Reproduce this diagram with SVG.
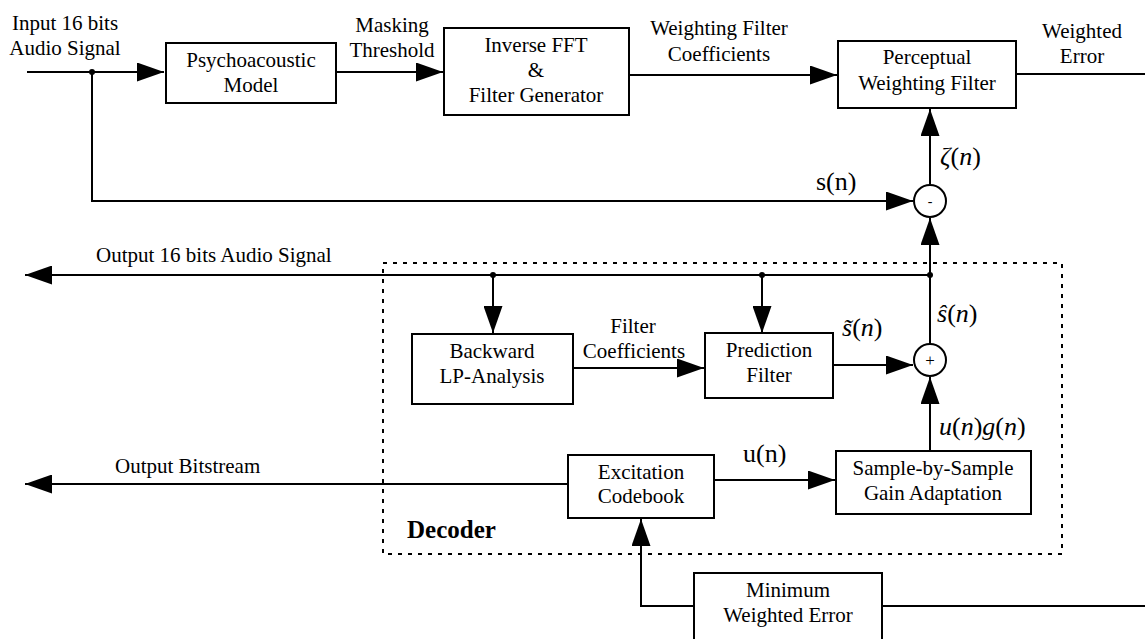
<svg xmlns="http://www.w3.org/2000/svg" width="1145" height="639" viewBox="0 0 1145 639">
<style>
text{font-family:"Liberation Serif","Times New Roman",serif;font-size:21px;fill:#000}
.c{text-anchor:middle}
.m{font-size:26px}
.i{font-style:italic}
.box{fill:#fff;stroke:#000;stroke-width:2}
.ln{fill:none;stroke:#000;stroke-width:2}
.dash{fill:none;stroke:#000;stroke-width:2;stroke-dasharray:4 6}
.dot{fill:#000}
</style>
<defs>
<marker id="ah" markerUnits="userSpaceOnUse" markerWidth="27" markerHeight="19" refX="27" refY="9.5" orient="auto">
<path d="M0,0 L27,9.5 L0,19 z" fill="#000"/>
</marker>
</defs>
<rect width="1145" height="639" fill="#fff"/>

<g id="decoder-frame">
<rect class="dash" x="383" y="263" width="679" height="291"/>
<text x="407" y="538" style="font-weight:bold;font-size:25px">Decoder</text>
</g>

<g id="connectors">
<path class="ln" d="M27,72 H164" marker-end="url(#ah)"/>
<path class="ln" d="M336,72 H443" marker-end="url(#ah)"/>
<path class="ln" d="M629,75 H837" marker-end="url(#ah)"/>
<path class="ln" d="M1016,74 H1145"/>
<path class="ln" d="M92,72 V201 H913" marker-end="url(#ah)"/>
<path class="ln" d="M930,184 V109" marker-end="url(#ah)"/>
<path class="ln" d="M930,344 V218" marker-end="url(#ah)"/>
<path class="ln" d="M930,275 H25" marker-end="url(#ah)"/>
<path class="ln" d="M493,275 V333" marker-end="url(#ah)"/>
<path class="ln" d="M762,275 V333" marker-end="url(#ah)"/>
<path class="ln" d="M573,368 H704" marker-end="url(#ah)"/>
<path class="ln" d="M833,365 H913" marker-end="url(#ah)"/>
<path class="ln" d="M930,451 V377" marker-end="url(#ah)"/>
<path class="ln" d="M714,480 H835" marker-end="url(#ah)"/>
<path class="ln" d="M568,484 H25" marker-end="url(#ah)"/>
<path class="ln" d="M694,606 H641 V519" marker-end="url(#ah)"/>
<path class="ln" d="M882,606 H1145"/>
<circle class="dot" cx="92" cy="72" r="3"/>
<circle class="dot" cx="493" cy="275" r="3"/>
<circle class="dot" cx="762" cy="275" r="3"/>
<circle class="dot" cx="930" cy="275" r="3"/>
</g>

<g id="labels">
<text class="c" x="65" y="30">Input 16 bits</text>
<text class="c" x="65" y="55">Audio Signal</text>
<text class="c" x="392" y="32">Masking</text>
<text class="c" x="392" y="57">Threshold</text>
<text class="c" x="719" y="35">Weighting Filter</text>
<text class="c" x="719" y="61">Coefficients</text>
<text class="c" x="1082" y="38">Weighted</text>
<text class="c" x="1082" y="63">Error</text>
<text class="m" x="940" y="165"><tspan class="i">ζ</tspan>(<tspan class="i">n</tspan>)</text>
<text class="m" x="816" y="190">s(n)</text>
<text x="96" y="262">Output 16 bits Audio Signal</text>
<text class="c" x="633" y="333">Filter</text>
<text class="c" x="634" y="358">Coefficients</text>
<text class="m" x="842" y="336"><tspan class="i">s̃</tspan>(<tspan class="i">n</tspan>)</text>
<text class="m" x="937" y="322"><tspan class="i">ŝ</tspan>(<tspan class="i">n</tspan>)</text>
<text class="m" x="939" y="435"><tspan class="i">u</tspan>(<tspan class="i">n</tspan>)<tspan class="i">g</tspan>(<tspan class="i">n</tspan>)</text>
<text class="m" x="743" y="462">u(n)</text>
<text x="115" y="473">Output Bitstream</text>
</g>

<g id="psychoacoustic">
<rect class="box" x="166" y="43" width="170" height="60"/>
<text class="c" x="251" y="67">Psychoacoustic</text>
<text class="c" x="251" y="92">Model</text>
</g>

<g id="inverse-fft">
<rect class="box" x="444" y="28" width="185" height="87"/>
<text class="c" x="536" y="52">Inverse FFT</text>
<text class="c" x="536" y="77">&amp;</text>
<text class="c" x="536" y="102">Filter Generator</text>
</g>

<g id="perceptual">
<rect class="box" x="838" y="41" width="178" height="67"/>
<text class="c" x="927" y="64">Perceptual</text>
<text class="c" x="927" y="90">Weighting Filter</text>
</g>

<g id="minus">
<circle class="box" cx="930" cy="201" r="16"/>
<text class="c" x="930" y="206" style="font-size:14px">-</text>
</g>

<g id="plus">
<circle class="box" cx="930" cy="360" r="16"/>
<text class="c" x="930" y="366" style="font-size:17px">+</text>
</g>

<g id="backward">
<rect class="box" x="412" y="334" width="161" height="70"/>
<text class="c" x="492" y="358">Backward</text>
<text class="c" x="492" y="383">LP-Analysis</text>
</g>

<g id="prediction">
<rect class="box" x="705" y="333" width="128" height="65"/>
<text class="c" x="769" y="357">Prediction</text>
<text class="c" x="769" y="382">Filter</text>
</g>

<g id="gain">
<rect class="box" x="836" y="451" width="195" height="63"/>
<text class="c" x="933" y="475">Sample-by-Sample</text>
<text class="c" x="933" y="500">Gain Adaptation</text>
</g>

<g id="excitation">
<rect class="box" x="568" y="455" width="146" height="63"/>
<text class="c" x="641" y="479">Excitation</text>
<text class="c" x="641" y="503">Codebook</text>
</g>

<g id="min-error">
<rect class="box" x="694" y="573" width="188" height="80"/>
<text class="c" x="788" y="597">Minimum</text>
<text class="c" x="788" y="622">Weighted Error</text>
</g>
</svg>
